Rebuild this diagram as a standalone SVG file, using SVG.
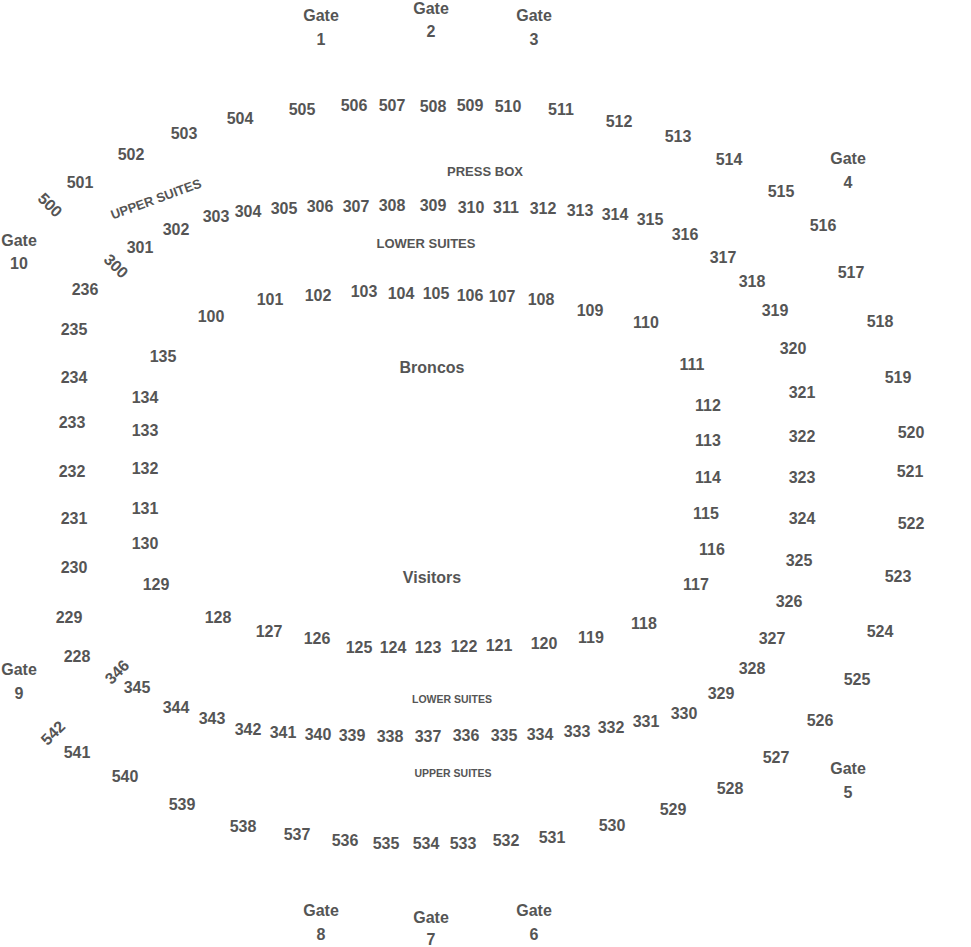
<svg xmlns="http://www.w3.org/2000/svg" width="971" height="947" viewBox="0 0 971 947">
<style>
text{font-family:"Liberation Sans",Arial,sans-serif;font-weight:bold;fill:#555;text-anchor:middle;dominant-baseline:central;font-size:16px}
.m{font-size:13px}
.s{font-size:10.5px}
.u{font-size:13px}
</style>
<rect width="971" height="947" fill="#fff"/>
<g id="gates">
<text x="321" y="15">Gate</text><text x="321" y="39">1</text>
<text x="431" y="8">Gate</text><text x="431" y="31">2</text>
<text x="534" y="15">Gate</text><text x="534" y="39">3</text>
<text x="848" y="158">Gate</text><text x="848" y="182">4</text>
<text x="848" y="768">Gate</text><text x="848" y="792">5</text>
<text x="534" y="910">Gate</text><text x="534" y="934">6</text>
<text x="431" y="917">Gate</text><text x="431" y="939">7</text>
<text x="321" y="910">Gate</text><text x="321" y="934">8</text>
<text x="19" y="669">Gate</text><text x="19" y="693">9</text>
<text x="19" y="240">Gate</text><text x="19" y="263">10</text>
</g>
<g id="labels">
<text x="485" y="171" class="m">PRESS BOX</text>
<text x="426" y="243" class="m">LOWER SUITES</text>
<text x="452" y="699" class="s">LOWER SUITES</text>
<text x="453" y="773" class="s">UPPER SUITES</text>
<text x="156" y="199" class="u" transform="rotate(-20 156 199)">UPPER SUITES</text>
<text x="432" y="367">Broncos</text>
<text x="432" y="577">Visitors</text>
</g>
<g id="level500">
<text x="50" y="205" transform="rotate(45 50 205)">500</text>
<text x="80" y="182">501</text><text x="131" y="154">502</text><text x="184" y="133">503</text><text x="240" y="118">504</text>
<text x="302" y="109">505</text><text x="354" y="105">506</text><text x="392" y="105">507</text><text x="433" y="106">508</text>
<text x="470" y="105">509</text><text x="508" y="106">510</text><text x="561" y="109">511</text><text x="619" y="121">512</text>
<text x="678" y="136">513</text><text x="729" y="159">514</text><text x="781" y="191">515</text><text x="823" y="225">516</text>
<text x="851" y="272">517</text><text x="880" y="321">518</text><text x="898" y="377">519</text><text x="911" y="432">520</text>
<text x="910" y="471">521</text><text x="911" y="523">522</text><text x="898" y="576">523</text><text x="880" y="631">524</text>
<text x="857" y="679">525</text><text x="820" y="720">526</text><text x="776" y="757">527</text><text x="730" y="788">528</text>
<text x="673" y="809">529</text><text x="612" y="825">530</text><text x="552" y="837">531</text><text x="506" y="840">532</text>
<text x="463" y="843">533</text><text x="426" y="843">534</text><text x="386" y="843">535</text><text x="345" y="840">536</text>
<text x="297" y="834">537</text><text x="243" y="826">538</text><text x="182" y="804">539</text><text x="125" y="776">540</text>
<text x="77" y="752">541</text>
<text x="53" y="733" transform="rotate(-45 53 733)">542</text>
</g>
<g id="level300">
<text x="116" y="266" transform="rotate(45 116 266)">300</text>
<text x="140" y="247">301</text><text x="176" y="229">302</text><text x="216" y="216">303</text><text x="248" y="211">304</text>
<text x="284" y="208">305</text><text x="320" y="206">306</text><text x="356" y="206">307</text><text x="392" y="205">308</text>
<text x="433" y="205">309</text><text x="471" y="207">310</text><text x="506" y="207">311</text><text x="543" y="208">312</text>
<text x="580" y="210">313</text><text x="615" y="214">314</text><text x="650" y="219">315</text><text x="685" y="234">316</text>
<text x="723" y="257">317</text><text x="752" y="281">318</text><text x="775" y="310">319</text><text x="793" y="348">320</text>
<text x="802" y="392">321</text><text x="802" y="436">322</text><text x="802" y="477">323</text><text x="802" y="518">324</text>
<text x="799" y="560">325</text><text x="789" y="601">326</text><text x="772" y="638">327</text><text x="752" y="668">328</text>
<text x="721" y="693">329</text><text x="684" y="713">330</text><text x="646" y="721">331</text><text x="611" y="727">332</text>
<text x="577" y="731">333</text><text x="540" y="734">334</text><text x="504" y="735">335</text><text x="466" y="735">336</text>
<text x="428" y="736">337</text><text x="390" y="736">338</text><text x="352" y="735">339</text><text x="318" y="734">340</text>
<text x="283" y="732">341</text><text x="248" y="729">342</text><text x="212" y="718">343</text><text x="176" y="707">344</text>
<text x="137" y="687">345</text>
<text x="117" y="672" transform="rotate(-45 117 672)">346</text>
</g>
<g id="level200">
<text x="85" y="289">236</text><text x="74" y="329">235</text><text x="74" y="377">234</text><text x="72" y="422">233</text>
<text x="72" y="471">232</text><text x="74" y="518">231</text><text x="74" y="567">230</text><text x="69" y="617">229</text>
<text x="77" y="656">228</text>
</g>
<g id="level100">
<text x="211" y="316">100</text><text x="270" y="299">101</text><text x="318" y="295">102</text><text x="364" y="291">103</text>
<text x="401" y="293">104</text><text x="436" y="293">105</text><text x="470" y="295">106</text><text x="502" y="296">107</text>
<text x="541" y="299">108</text><text x="590" y="310">109</text><text x="646" y="322">110</text><text x="692" y="364">111</text>
<text x="708" y="405">112</text><text x="708" y="440">113</text><text x="708" y="477">114</text><text x="706" y="513">115</text>
<text x="712" y="549">116</text><text x="696" y="584">117</text><text x="644" y="623">118</text><text x="591" y="637">119</text>
<text x="544" y="643">120</text><text x="499" y="645">121</text><text x="464" y="646">122</text><text x="428" y="647">123</text>
<text x="393" y="647">124</text><text x="359" y="647">125</text><text x="317" y="638">126</text><text x="269" y="631">127</text>
<text x="218" y="617">128</text><text x="156" y="584">129</text><text x="145" y="543">130</text><text x="145" y="508">131</text>
<text x="145" y="468">132</text><text x="145" y="430">133</text><text x="145" y="397">134</text><text x="163" y="356">135</text>
</g>
<g id="connectors"></g>
</svg>
